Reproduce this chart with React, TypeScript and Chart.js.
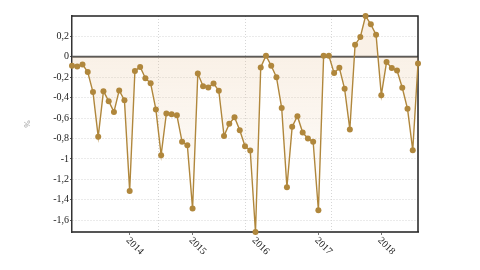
import React, { useEffect, useRef } from "react";
import { Chart, registerables } from "chart.js";

Chart.register(...registerables);

// Monthly values, Feb 2013 .. Aug 2018 (%)
const START_YEAR = 2013;
const START_MONTH = 2;
const VALUES: number[] = [
  -0.088, -0.095, -0.075, -0.15, -0.346, -0.784, -0.337, -0.435, -0.54, -0.33, -0.425,
  -1.314, -0.14, -0.1, -0.21, -0.26, -0.516, -0.964, -0.556, -0.562, -0.572, -0.833, -0.866,
  -1.487, -0.163, -0.288, -0.3, -0.261, -0.333, -0.775, -0.657, -0.592, -0.719, -0.876, -0.918,
  -1.716, -0.105, 0.01, -0.088, -0.2, -0.503, -1.278, -0.686, -0.582, -0.742, -0.8, -0.833,
  -1.503, 0.01, 0.01, -0.16, -0.108, -0.314, -0.712, 0.118, 0.193, 0.399, 0.317, 0.216,
  -0.376, -0.052, -0.111, -0.134, -0.304, -0.51, -0.915, -0.065,
];
const YEAR_LABELS: string[] = ["2014", "2015", "2016", "2017", "2018"];
const Y_TICKS: number[] = [-1.6, -1.4, -1.2, -1, -0.8, -0.6, -0.4, -0.2, 0, 0.2];
const Y_TITLE = "%";

const yearIndex = (y: string) => (Number(y) - START_YEAR) * 12 - (START_MONTH - 1);

const LINE = "#b0873c";

const decorPlugin = {
  id: "decor",
  beforeDatasetsDraw(chart: any) {
    const { ctx, chartArea: a, scales } = chart;
    const y0 = scales.y.getPixelForValue(0);
    ctx.save();
    ctx.strokeStyle = "#555";
    ctx.lineWidth = 2;
    ctx.beginPath();
    ctx.moveTo(a.left, y0);
    ctx.lineTo(a.right, y0);
    ctx.stroke();
    ctx.strokeStyle = "#222";
    ctx.lineWidth = 1.5;
    ctx.beginPath();
    ctx.moveTo(a.left, a.top);
    ctx.lineTo(a.right, a.top);
    ctx.lineTo(a.right, a.bottom);
    ctx.stroke();
    ctx.restore();
  },
  afterDraw(chart: any) {
    const { ctx, scales, chartArea: a } = chart;
    ctx.save();
    ctx.font = '10px "Liberation Serif"';
    ctx.fillStyle = "#222";
    ctx.textAlign = "left";
    ctx.textBaseline = "middle";
    YEAR_LABELS.forEach((lab) => {
      const px = scales.x.getPixelForValue(yearIndex(lab));
      ctx.save();
      ctx.translate(px - 2, a.bottom + 7);
      ctx.rotate(Math.PI / 4);
      ctx.fillText(lab, 0, 0);
      ctx.restore();
    });
    ctx.restore();
  },
};

export default function App() {
  const ref = useRef<HTMLCanvasElement>(null);
  useEffect(() => {
    if (!ref.current) return;
    const n = VALUES.length - 1;
    const chart = new Chart(ref.current, {
      type: "line",
      data: {
        datasets: [
          {
            data: VALUES.map((v, i) => ({ x: i, y: v })),
            borderColor: LINE,
            borderWidth: 1.4,
            pointBackgroundColor: LINE,
            pointBorderWidth: 0,
            pointRadius: 3,
            tension: 0,
            clip: false as any,
            fill: { value: 0 },
            backgroundColor: (c: any) => {
              const area = c.chart.chartArea;
              if (!area) return "rgba(225,180,130,0.15)";
              const g = c.chart.ctx.createLinearGradient(0, area.top, 0, area.bottom);
              const z = (c.chart.scales.y.getPixelForValue(0) - area.top) / (area.bottom - area.top);
              g.addColorStop(0, "rgba(228,185,135,0.2)");
              g.addColorStop(Math.max(0, Math.min(1, z)), "rgba(228,185,135,0.2)");
              g.addColorStop(1, "rgba(228,185,135,0.0)");
              return g;
            },
          },
        ],
      },
      options: {
        animation: false,
        responsive: false,
        layout: { padding: { top: 16, right: 62, bottom: 0, left: 0 } },
        plugins: { legend: { display: false }, tooltip: { enabled: false } },
        scales: {
          x: {
            type: "linear",
            min: 0,
            max: n,
            afterBuildTicks: (s: any) => {
              s.ticks = YEAR_LABELS.map((l) => ({ value: yearIndex(l) }));
            },
            afterFit: (s: any) => {
              s.height = 38;
            },
            ticks: { display: false },
            grid: { drawOnChartArea: false, drawTicks: true, tickLength: 3, tickColor: "#777" },
            border: { display: true, color: "#555", width: 2 },
          },
          x2: {
            type: "linear",
            position: "bottom",
            min: 0,
            max: n,
            afterBuildTicks: (s: any) => {
              s.ticks = [1, 2, 3].map((k) => ({ value: (n * k) / 4 }));
            },
            afterFit: (s: any) => {
              s.height = 0;
            },
            ticks: { display: false },
            grid: { drawOnChartArea: true, drawTicks: false, color: "#d6d6d6", lineWidth: 1 },
            border: { display: false, dash: [1, 2] },
          },
          y: {
            type: "linear",
            min: Math.min(...VALUES),
            max: Math.max(...VALUES),
            afterBuildTicks: (s: any) => {
              s.ticks = Y_TICKS.map((v) => ({ value: v }));
            },
            afterFit: (s: any) => {
              s.width = 72;
            },
            ticks: {
              color: "#222",
              padding: 1,
              font: { family: '"Liberation Serif"', size: 10 },
              callback: (v: any) => String(Math.round(Number(v) * 10) / 10).replace(".", ","),
            },
            title: {
              display: true,
              text: Y_TITLE,
              color: "#999",
              font: { family: '"Liberation Serif"', size: 9 },
              padding: { top: 22, bottom: 0 },
            },
            grid: { color: "#d6d6d6", lineWidth: 1, tickLength: 2, tickColor: "#555" },
            border: { display: true, color: "#333", width: 1.5, dash: [1, 2] },
          },
        },
      },
      plugins: [decorPlugin],
    });
    return () => chart.destroy();
  }, []);
  return (
    <div style={{ position: "absolute", left: 0, top: 0, width: 480, height: 270, background: "#fff" }}>
      <canvas ref={ref} width={480} height={270} />
    </div>
  );
}
